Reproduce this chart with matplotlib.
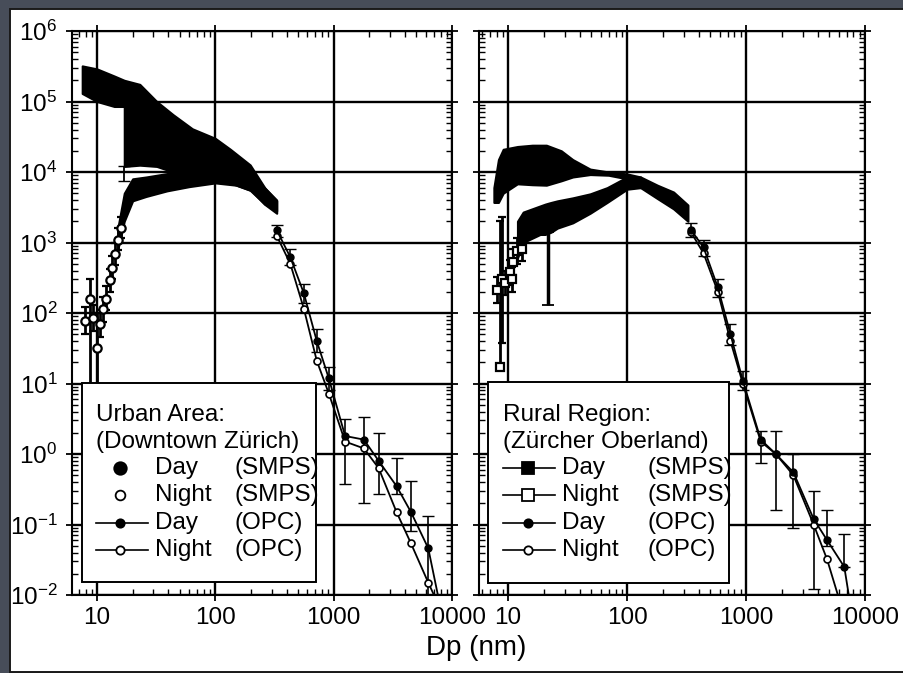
import numpy as np
import matplotlib
matplotlib.use('Agg')
import matplotlib.pyplot as plt
from matplotlib.patches import Rectangle
from matplotlib.ticker import LogLocator, NullFormatter, LogFormatterSciNotation, FixedFormatter

plt.rcParams['font.family'] = ['Liberation Sans', 'DejaVu Sans']
plt.rcParams['mathtext.fontset'] = 'custom'
plt.rcParams['mathtext.rm'] = 'Liberation Sans'
plt.rcParams['mathtext.it'] = 'Liberation Sans:italic'
plt.rcParams['mathtext.bf'] = 'Liberation Sans:bold'

# ---------------- DATA ----------------
x_ticks = [10, 100, 1000, 10000]
x_tick_labels = ['10', '100', '1000', '10000']

# Urban area (Downtown Zürich)
# SMPS day: envelope of dense points with error bars
urban_day_dp = [7.5, 10, 14, 17, 17, 23, 32, 44, 64, 100, 134, 197, 263, 330]
urban_day_hi = [3.2e5, 2.9e5, 2.3e5, 2.0e5, 2.0e5, 1.75e5, 1.0e5, 6.5e4, 4.1e4, 3.0e4, 2.1e4, 1.26e4, 5.9e3, 3.9e3]
urban_day_lo = [1.3e5, 1.0e5, 8.5e4, 8.5e4, 1.2e4, 1.25e4, 1.2e4, 1.0e4, 9.0e3, 8.0e3, 7.0e3, 5.5e3, 3.5e3, 2.8e3]
urban_day_bar_dp = [17]
urban_day_bar_lo = [7.4e3]
urban_day_bar_hi = [1.2e4]
# SMPS night: envelope
urban_night_dp = [15, 17, 20, 26, 39, 60, 100, 150, 200, 260, 330]
urban_night_hi = [1.6e3, 5.0e3, 8.0e3, 8.5e3, 9.5e3, 1.0e4, 1.1e4, 1.1e4, 9.0e3, 6.0e3, 4.0e3]
urban_night_lo = [8.0e2, 2.0e3, 3.9e3, 4.5e3, 5.4e3, 6.2e3, 7.0e3, 6.5e3, 5.5e3, 3.5e3, 2.6e3]
# SMPS night: individual points in the steep rising part
urban_night_pts_dp = [7.9, 8.7, 9.3, 10.0, 10.6, 11.2, 12.0, 12.8, 13.4, 14.2, 15.0, 16.0]
urban_night_pts_val = [77, 158, 85, 32, 70, 114, 160, 290, 440, 690, 1100, 1600]
urban_night_pts_lo = [50, 10, 55, 10, 45, 75, 110, 200, 300, 480, 780, 1150]
urban_night_pts_hi = [120, 306, 130, 100, 110, 170, 240, 420, 640, 1000, 1600, 2300]
# OPC
urban_opc_dp = [330, 430, 560, 720, 910, 1250, 1800, 2400, 3400, 4500, 6300, 8500]
urban_opc_day = [1500, 620, 190, 40, 11.8, 1.8, 1.6, 0.8, 0.35, 0.15, 0.046, 0.004]
urban_opc_day_lo = [1200, 480, 140, 28, 8, 0.38, 0.2, 0.27, 0.27, 0.08, 0.005, 0.004]
urban_opc_day_hi = [1800, 800, 260, 60, 17, 3.1, 3.4, 2.0, 0.88, 0.41, 0.13, 0.004]
urban_opc_night = [1250, 500, 115, 21, 7.2, 1.5, 1.2, 0.63, 0.15, 0.054, 0.015, 0.005]

# Rural region (Zürcher Oberland)
rural_day_dp = [7.6, 8.3, 9.1, 12, 16, 21, 28, 35, 49, 70, 100, 130, 180, 246, 325]
rural_day_hi = [6.0e3, 1.5e4, 2.1e4, 2.3e4, 2.4e4, 2.4e4, 2.0e4, 1.5e4, 1.1e4, 1.0e4, 9.4e3, 8.5e3, 6.5e3, 5.2e3, 3.4e3]
rural_day_lo = [3.7e3, 3.7e3, 5.0e3, 6.8e3, 6.6e3, 6.5e3, 7.5e3, 8.5e3, 9.2e3, 9.0e3, 8.0e3, 6.0e3, 4.2e3, 3.0e3, 2.0e3]
rural_night_dp = [12, 13.4, 18.6, 20.5, 21.7, 23, 26, 35, 49, 68, 100, 130]
rural_night_hi = [2.0e3, 2.7e3, 3.3e3, 3.5e3, 3.6e3, 3.7e3, 3.9e3, 4.3e3, 4.9e3, 6.0e3, 8.5e3, 8.5e3]
rural_night_lo = [6.0e2, 1.0e3, 1.3e3, 1.3e3, 1.35e3, 1.4e3, 1.6e3, 1.9e3, 2.6e3, 3.7e3, 5.7e3, 6.0e3]
rural_night_bar_dp = [21.7]
rural_night_bar_lo = [130]
rural_night_bar_hi = [1.4e3]
rural_night_pts_dp = [8.1, 8.6, 8.9, 9.4, 10.4, 10.8, 11.0, 12.0, 13.0]
rural_night_pts_val = [210, 17, 300, 270, 380, 300, 530, 770, 800]
rural_night_pts_lo = [140, 17, 38, 180, 250, 200, 350, 500, 550]
rural_night_pts_hi = [320, 2000, 2300, 400, 560, 450, 800, 1150, 1200]
rural_opc_dp = [345, 440, 580, 740, 940, 1330, 1780, 2500, 3700, 4800, 6700, 8500]
rural_opc_day = [1500, 850, 230, 50, 11, 1.6, 1.0, 0.55, 0.12, 0.06, 0.025, 0.002]
rural_opc_day_lo = [1200, 650, 170, 35, 8, 0.74, 0.16, 0.09, 0.012, 0.05, 0.025, 0.002]
rural_opc_day_hi = [1900, 1100, 300, 70, 15, 2.1, 2.1, 1.0, 0.3, 0.16, 0.073, 0.002]
rural_opc_night = [1400, 700, 200, 40, 10, 1.5, 1.0, 0.5, 0.1, 0.032, 0.005, 0.001]

# ---------------- FIGURE ----------------
W, H = 904, 673
fig = plt.figure(figsize=(W / 100, H / 100), dpi=100)
fig.patch.set_facecolor('#474d59')


def fx(px):
    return px / W


def fy(py):
    return 1 - py / H


fig.add_artist(Rectangle((fx(10), fy(672)), 1.0, fy(9) - fy(672), transform=fig.transFigure,
                         facecolor='white', edgecolor='#1a1a1a', lw=1.4, zorder=0))

ax1 = fig.add_axes([fx(72), fy(595), (452 - 72) / W, (595 - 31) / H])
ax2 = fig.add_axes([fx(479), fy(595), (865 - 479) / W, (595 - 31) / H])

FS = 17.5


def style(ax, xmin, left_labels):
    ax.set_xscale('log')
    ax.set_yscale('log')
    ax.set_xlim(xmin, 1e4)
    ax.set_ylim(1e-2, 1e6)
    ax.set_xticks(x_ticks)
    ax.xaxis.set_major_formatter(FixedFormatter(x_tick_labels))
    ax.xaxis.set_minor_locator(LogLocator(base=10, subs=np.arange(2, 10)))
    ax.xaxis.set_minor_formatter(NullFormatter())
    ax.yaxis.set_major_locator(LogLocator(base=10, numticks=20))
    ax.yaxis.set_minor_locator(LogLocator(base=10, subs=np.arange(2, 10), numticks=100))
    ax.yaxis.set_minor_formatter(NullFormatter())
    ax.yaxis.set_major_formatter(LogFormatterSciNotation())
    ax.grid(which='major', color='black', lw=1.7, zorder=1)
    ax.set_axisbelow(True)
    ax.tick_params(which='major', direction='inout', length=9, width=1.3,
                   top=True, right=True, labelsize=FS, pad=4,
                   labelleft=left_labels)
    ax.tick_params(axis='y', which='major', pad=6)
    ax.tick_params(which='minor', direction='in', length=4, width=1.0, top=True, right=True)
    for s in ax.spines.values():
        s.set_linewidth(1.5)


style(ax1, 6.15, True)
style(ax2, 5.7, False)

# ---------------- Urban panel ----------------
ax1.fill_between(urban_day_dp, urban_day_lo, urban_day_hi, color='black', lw=1.5, zorder=3)
ax1.fill_between(urban_night_dp, urban_night_lo, urban_night_hi, color='black', lw=1.5, zorder=3)
bd = np.array(urban_day_bar_hi)
ax1.errorbar(urban_day_bar_dp, bd, yerr=[bd - np.array(urban_day_bar_lo), np.zeros_like(bd)],
             fmt='none', ecolor='black', elinewidth=1.3, capsize=4, zorder=3)
v = np.array(urban_night_pts_val)
ax1.errorbar(urban_night_pts_dp, v,
             yerr=[v - np.array(urban_night_pts_lo), np.array(urban_night_pts_hi) - v],
             fmt='o', ms=6, mfc='white', mec='black', mew=1.6, ecolor='black',
             elinewidth=2.0, capsize=3, zorder=4)
d = np.array(urban_opc_day)
ax1.errorbar(urban_opc_dp, d,
             yerr=[d - np.array(urban_opc_day_lo), np.array(urban_opc_day_hi) - d],
             fmt='-o', color='black', ms=5, mfc='black', lw=1.3, ecolor='black',
             elinewidth=1.2, capsize=4, zorder=5)
ax1.plot(urban_opc_dp, urban_opc_night, '-o', color='black', ms=5, mfc='white', mew=1.2,
         lw=1.3, zorder=5)

# ---------------- Rural panel ----------------
ax2.fill_between(rural_day_dp, rural_day_lo, rural_day_hi, color='black', lw=1.5, zorder=3)
ax2.fill_between(rural_night_dp, rural_night_lo, rural_night_hi, color='black', lw=1.5, zorder=3)
bn = np.array(rural_night_bar_hi)
ax2.errorbar(rural_night_bar_dp, bn, yerr=[bn - np.array(rural_night_bar_lo), np.zeros_like(bn)],
             fmt='none', ecolor='black', elinewidth=2.5, capsize=4, capthick=1.3, zorder=3)
v = np.array(rural_night_pts_val)
ax2.errorbar(rural_night_pts_dp, v,
             yerr=[v - np.array(rural_night_pts_lo), np.array(rural_night_pts_hi) - v],
             fmt='s', ms=6, mfc='white', mec='black', mew=1.6, ecolor='black',
             elinewidth=2.0, capsize=3, zorder=4)
d = np.array(rural_opc_day)
ax2.errorbar(rural_opc_dp, d,
             yerr=[d - np.array(rural_opc_day_lo), np.array(rural_opc_day_hi) - d],
             fmt='-o', color='black', ms=5, mfc='black', lw=1.3, ecolor='black',
             elinewidth=1.2, capsize=4, zorder=5)
ax2.plot(rural_opc_dp, rural_opc_night, '-o', color='black', ms=5, mfc='white', mew=1.2,
         lw=1.3, zorder=5)

# ---------------- Legends (drawn as boxes) ----------------
def legend_box(ax, x0, x1, y0, y1, title1, title2, tx, hx0, hx1, mx, lx, ix, entries):
    ax.add_patch(Rectangle((fx(x0), fy(y1)), fx(x1) - fx(x0), fy(y0) - fy(y1),
                           transform=fig.transFigure, facecolor='white', edgecolor='black',
                           lw=1.4, zorder=10, clip_on=False))
    ax.text(fx(tx), fy(415), title1, transform=fig.transFigure, va='center', ha='left',
            fontsize=FS, zorder=11)
    ax.text(fx(tx), fy(442), title2, transform=fig.transFigure, va='center', ha='left',
            fontsize=FS, zorder=11)
    rows = [468, 495, 523, 550]
    for (mk, filled, line, ms, lab, inst), ry in zip(entries, rows):
        if line:
            ax.plot([fx(hx0), fx(hx1)], [fy(ry), fy(ry)], '-', color='black', lw=1.2,
                    transform=fig.transFigure, zorder=11, clip_on=False)
        ax.plot([fx(mx)], [fy(ry)], mk, ms=ms, mfc='black' if filled else 'white',
                mec='black', mew=1.3, transform=fig.transFigure, zorder=12, clip_on=False)
        ax.text(fx(lx), fy(ry), lab, transform=fig.transFigure, va='center', ha='left',
                fontsize=FS, zorder=11)
        ax.text(fx(ix), fy(ry), inst, transform=fig.transFigure, va='center', ha='left',
                fontsize=FS, zorder=11)


legend_box(ax1, 82, 316, 383, 582, 'Urban Area:', '(Downtown Zürich)', 96, 96, 148, 120, 155, 235,
           [('o', True, False, 9, 'Day', '(SMPS)'),
            ('o', False, False, 7, 'Night', '(SMPS)'),
            ('o', True, True, 6, 'Day', '(OPC)'),
            ('o', False, True, 6, 'Night', '(OPC)')])
legend_box(ax2, 488, 729, 382, 583, 'Rural Region:', '(Zürcher Oberland)', 503, 503, 555, 528, 562, 648,
           [('s', True, True, 8, 'Day', '(SMPS)'),
            ('s', False, True, 8, 'Night', '(SMPS)'),
            ('o', True, True, 6, 'Day', '(OPC)'),
            ('o', False, True, 6, 'Night', '(OPC)')])

fig.text(fx(476), fy(648), 'Dp (nm)', ha='center', va='center', fontsize=20)

fig.savefig('out.png', dpi=100, facecolor=fig.get_facecolor())
